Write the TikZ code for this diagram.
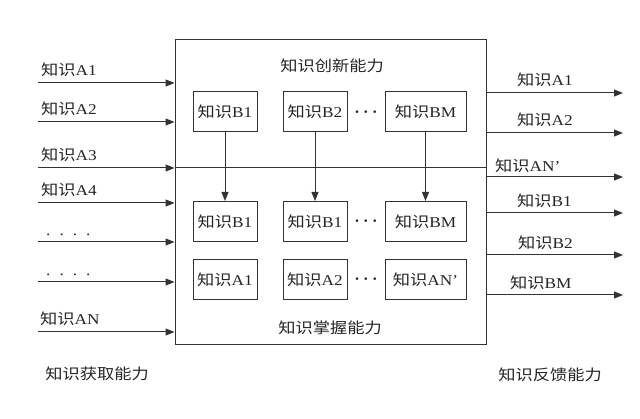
\documentclass[tikz,border=0pt]{standalone}
\usepackage{fontspec}
\setmainfont{Liberation Serif}[FakeStretch=1.15]
\newfontfamily\cjk{Noto Sans CJK SC}[FakeStretch=1.15]
\usetikzlibrary{arrows.meta}
\newcommand\zs[1]{{\cjk #1}}
\newcommand\bdots{{\fontsize{17}{17}\selectfont\boldmath$\cdots$}}
\begin{document}
\begin{tikzpicture}[x=1pt,y=-1pt,
  every node/.style={text=black!85,font=\fontsize{15}{17}\selectfont},
  ln/.style={draw=black!80,line width=1pt},
  arr/.style={ln,-{Triangle[length=9pt,width=7pt]}},
  mainbox/.style={ln,minimum width=311pt,minimum height=305pt,inner sep=0pt},
  kbox/.style={ln,minimum width=64pt,minimum height=40pt,inner sep=0pt},
  wbox/.style={kbox,minimum width=81pt},
  lbl/.style={anchor=base west,inner sep=0pt}]
\useasboundingbox (0,0) rectangle (640,419);
\fill[white] (0,0) rectangle (640,419);
% main box
\node[mainbox] (main) at (330.5,192.5) {};
% titles
\node (t1) at (332,66) {\zs{知识创新能力}};
\node (t2) at (330,328) {\zs{知识掌握能力}};
% top row
\node[kbox] (b1t) at (225,112) {\zs{知识}B1};
\node[kbox] (b2t) at (315,112) {\zs{知识}B2};
\node[wbox] (bmt) at (425.5,112) {\zs{知识}BM};
\node (d1) at (366,112) {\bdots};
% middle row
\node[kbox] (b1m) at (225,221.5) {\zs{知识}B1};
\node[kbox] (b2m) at (315,221.5) {\zs{知识}B1};
\node[wbox] (bmm) at (425.5,221.5) {\zs{知识}BM};
\node (d2) at (366,221.5) {\bdots};
% bottom row
\node[kbox] (a1b) at (225,279.5) {\zs{知识}A1};
\node[kbox] (a2b) at (315,279.5) {\zs{知识}A2};
\node[wbox] (anb) at (425.5,279.5) {\zs{知识}AN’};
\node (d3) at (366,279.5) {\bdots};
% vertical arrows
\draw[arr] (b1t) -- (b1m);
\draw[arr] (b2t) -- (b2m);
\draw[arr] (bmt) -- (bmm);
% left inputs
\coordinate (la1) at (38,83);
\coordinate (la2) at (38,122);
\coordinate (la3) at (38,168);
\coordinate (la4) at (38,203);
\coordinate (la5) at (38,242);
\coordinate (la6) at (38,282);
\coordinate (la7) at (38,332);
\foreach \c in {la1,la2,la3,la4,la5,la6,la7}
  \draw[arr] (\c) -- (\c -| main.west);
\draw[ln] (la3 -| main.west) -- (la3 -| main.east);
\node[lbl] (l1) at (41,76) {\zs{知识}A1};
\node[lbl] (l2) at (41,115) {\zs{知识}A2};
\node[lbl] (l3) at (41,161) {\zs{知识}A3};
\node[lbl] (l4) at (41,196) {\zs{知识}A4};
\node[lbl] (l5) at (46,236) {.\hspace{9pt}.\hspace{9pt}.\hspace{9pt}.};
\node[lbl] (l6) at (46,276) {.\hspace{9pt}.\hspace{9pt}.\hspace{9pt}.};
\node[lbl] (l7) at (40,325) {\zs{知识}AN};
\node (cap1) at (97,374) {\zs{知识获取能力}};
% right outputs
\coordinate (ra1) at (623,93);
\coordinate (ra2) at (623,133);
\coordinate (ra3) at (623,177);
\coordinate (ra4) at (623,213);
\coordinate (ra5) at (623,255);
\coordinate (ra6) at (623,295);
\foreach \c in {ra1,ra2,ra3,ra4,ra5,ra6}
  \draw[arr] (\c -| main.east) -- (\c);
\node[lbl] (r1) at (517,86) {\zs{知识}A1};
\node[lbl] (r2) at (517,126) {\zs{知识}A2};
\node[lbl] (r3) at (495,172) {\zs{知识}AN’};
\node[lbl] (r4) at (517,207) {\zs{知识}B1};
\node[lbl] (r5) at (518,249) {\zs{知识}B2};
\node[lbl] (r6) at (510,289) {\zs{知识}BM};
\node (cap2) at (550,375) {\zs{知识反馈能力}};
\end{tikzpicture}
\end{document}
